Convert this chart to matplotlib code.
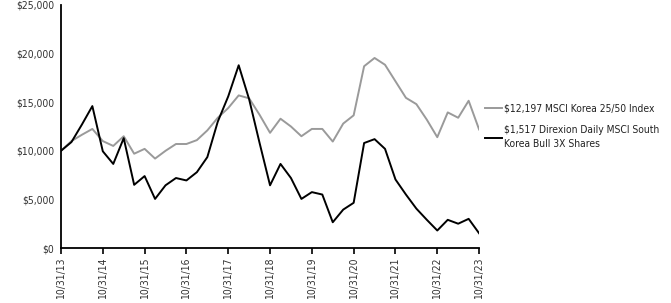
import matplotlib
matplotlib.use("Agg")
import matplotlib.pyplot as plt
from matplotlib.ticker import FuncFormatter

# quarterly values, 10/31/13 .. 10/31/23
index_vals = [10000, 11000, 11650, 12250, 11000, 10500, 11500, 9700, 10200, 9200,
              10000, 10700, 10700, 11100, 12100, 13400, 14400, 15700, 15400, 13700,
              11850, 13300, 12500, 11500, 12250, 12250, 10950, 12800, 13650, 18700,
              19550, 18850, 17150, 15450, 14800, 13200, 11400, 13950, 13400, 15150,
              12197]
fund_vals = [10000, 10900, 12700, 14600, 9950, 8650, 11300, 6500, 7400, 5050,
             6450, 7200, 6950, 7800, 9350, 13000, 15600, 18800, 15300, 10800,
             6450, 8650, 7200, 5050, 5750, 5500, 2650, 3950, 4650, 10800,
             11200, 10200, 7050, 5500, 4050, 2900, 1800, 2900, 2500, 3000,
             1517]
tick_labels = ["10/31/13", "10/31/14", "10/31/15", "10/31/16", "10/31/17", "10/31/18",
               "10/31/19", "10/31/20", "10/31/21", "10/31/22", "10/31/23"]
series_names = ["$12,197 MSCI Korea 25/50 Index",
                "$1,517 Direxion Daily MSCI South\nKorea Bull 3X Shares"]

plt.rcParams['font.family'] = ['DejaVu Sans']
plt.rcParams['font.stretch'] = 'condensed'

fig = plt.figure(figsize=(6.71, 3.03), dpi=100)
ax = fig.add_axes([0.0909, 0.1815, 0.6231, 0.802])

x = list(range(len(index_vals)))
ax.plot(x, index_vals, color="#9a9a9a", lw=1.4, label=series_names[0])
ax.plot(x, fund_vals, color="#000000", lw=1.4, label=series_names[1])

ax.set_xlim(0, len(x) - 1)
ax.set_ylim(0, 25000)
ax.set_xticks(range(0, len(x), 4))
ax.set_xticklabels(tick_labels, rotation=90, fontsize=7.5, color="#333333")
ax.set_yticks(range(0, 25001, 5000))
ax.yaxis.set_major_formatter(FuncFormatter(lambda v, p: "${:,.0f}".format(v)))
ax.tick_params(axis="y", length=0, pad=5, labelsize=7.5, labelcolor="#333333")
ax.tick_params(axis="x", length=4, width=1.2, direction="out", pad=3)

for s in ["top", "right"]:
    ax.spines[s].set_visible(False)
for s in ["left", "bottom"]:
    ax.spines[s].set_linewidth(1.3)

leg = ax.legend(loc="center left", bbox_to_anchor=(1.0, 0.5), frameon=False,
                fontsize=7.4, handlelength=1.6, handletextpad=0.2,
                labelspacing=1.15, borderaxespad=0.2)
for t in leg.get_texts():
    t.set_linespacing(1.5)
    t.set_color("#222222")

fig.savefig("out.png", dpi=100)
